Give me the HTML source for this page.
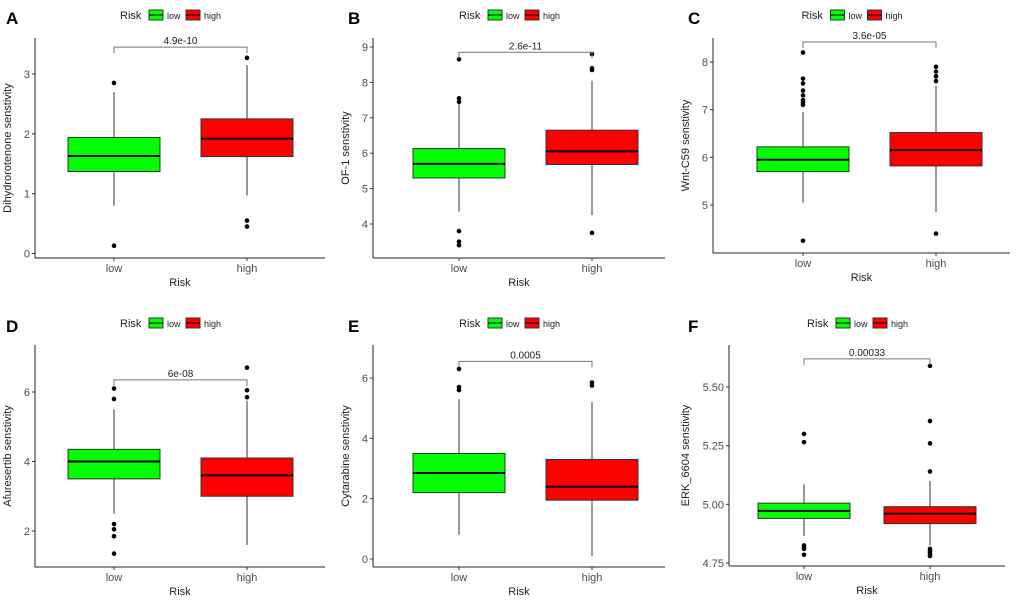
<!DOCTYPE html>
<html><head><meta charset="utf-8"><style>
body{margin:0;background:#fff;width:1020px;height:595px;overflow:hidden;font-family:"Liberation Sans",Arial,sans-serif}
</style></head><body>
<svg id="c" width="1020" height="595" xmlns="http://www.w3.org/2000/svg"></svg>
<script>
// ---- data ----
const panelLetters=["A","B","C","D","E","F"];
const yTitles=["Dihydrorotenone senstivity","OF-1 senstivity","Wnt-C59 senstivity","Afuresertib senstivity","Cytarabine senstivity","ERK_6604 senstivity"];
const pLabels=["4.9e-10","2.6e-11","3.6e-05","6e-08","0.0005","0.00033"];
const yTicks=[[0,1,2,3],[4,5,6,7,8,9],[5,6,7,8],[2,4,6],[0,2,4,6],[4.75,5.00,5.25,5.50]];
const yTickLabels=[["0","1","2","3"],["4","5","6","7","8","9"],["5","6","7","8"],["2","4","6"],["0","2","4","6"],["4.75","5.00","5.25","5.50"]];
// [q1, median, q3, whiskerLow, whiskerHigh]
const lowStats=[[1.37,1.63,1.94,0.8,2.7],[5.3,5.7,6.13,4.35,7.4],[5.7,5.95,6.22,5.05,6.95],[3.5,4.0,4.35,2.5,5.5],[2.2,2.85,3.5,0.8,5.3],[4.94,4.972,5.005,4.865,5.085]];
const highStats=[[1.62,1.92,2.25,0.97,3.15],[5.68,6.05,6.65,4.25,8.05],[5.82,6.15,6.52,4.85,7.5],[3.0,3.6,4.1,1.6,5.75],[1.95,2.4,3.3,0.1,5.2],[4.918,4.96,4.99,4.825,5.10]];
const lowOut=[[2.85,0.13],[7.55,7.45,8.65,3.8,3.5,3.4],[7.1,7.15,7.2,7.3,7.4,7.55,7.65,8.2,4.25],[5.8,6.1,2.2,2.05,1.85,1.35],[5.6,5.7,6.3],[5.3,5.265,4.825,4.815,4.81,4.785]];
const highOut=[[3.27,0.55,0.45],[8.35,8.4,8.8,3.75],[7.6,7.7,7.8,7.9,4.4],[5.85,6.05,6.7],[5.75,5.85],[5.14,5.26,5.355,5.59,4.81,4.8,4.795,4.785,4.78]];
const bracketVals=[3.45,8.85,8.42,6.35,6.55,5.62];
// ---- layout (pixel geometry only) ----
const L=[
 {ax:35,bot:258,top:38,right:325,t0:[0,253.5],t1:[3,74],xl:114,xh:247,letterX:6,ty:15},
 {ax:373,bot:258,top:38,right:665,t0:[4,224],t1:[9,47],xl:459,xh:592,letterX:348,ty:15},
 {ax:713,bot:253,top:38,right:1010,t0:[5,205],t1:[8,62],xl:803,xh:936,letterX:688,ty:15},
 {ax:35,bot:567,top:345,right:325,t0:[2,531],t1:[6,392],xl:114,xh:247,letterX:6,ty:323},
 {ax:373,bot:567,top:345,right:665,t0:[0,559],t1:[6,378],xl:459,xh:592,letterX:348,ty:323},
 {ax:729,bot:566,top:345,right:1005,t0:[4.75,563],t1:[5.5,387],xl:804,xh:930,letterX:688,ty:323}
];
const NS="http://www.w3.org/2000/svg",svg=document.getElementById('c');
function mk(t,a,p){const e=document.createElementNS(NS,t);for(const k in a)e.setAttribute(k,a[k]);(p||svg).appendChild(e);return e;}
const BW=46;
L.forEach((g,i)=>{
 const G=mk('g',{});
 
 
 const y=v=>g.t0[1]+(v-g.t0[0])*(g.t1[1]-g.t0[1])/(g.t1[0]-g.t0[0]);
 const lt=mk('text',{x:g.letterX,y:g.ty+9,'font-size':17,'font-weight':'bold'},G);lt.textContent=panelLetters[i];
 
 // legend
 const cx=(g.ax+g.right)/2, lg=mk('g',{},G);
 
 const lx=cx-60; let t=mk('text',{x:lx,y:g.ty+4,'font-size':11,fill:'#222'},lg);t.textContent='Risk';
 [['#00ff00','low',lx+29],['#ff0000','high',lx+66]].forEach(([c,n,x0])=>{
  const e=mk('g',{},lg);
  mk('rect',{x:x0,y:g.ty-5,width:14,height:10,fill:c,stroke:'#333','stroke-width':1},e);
  mk('line',{x1:x0,x2:x0+14,y1:g.ty,y2:g.ty,stroke:'#000'},e);
  const tt=mk('text',{x:x0+18,y:g.ty+4,'font-size':9,fill:'#222'},e);tt.textContent=n;});
 // axes
 const axl=mk('line',{x1:g.ax,x2:g.ax,y1:g.top,y2:g.bot,stroke:'#222','stroke-width':1},G);
 
 const axb=mk('line',{x1:g.ax,x2:g.right,y1:g.bot,y2:g.bot,stroke:'#222','stroke-width':1},G);
 
 yTicks[i].forEach((v,k)=>{const py=y(v);mk('line',{x1:g.ax-3,x2:g.ax,y1:py,y2:py,stroke:'#333'},G);
  const tl=mk('text',{x:g.ax-5,y:py+4,'font-size':11,'text-anchor':'end',fill:'#4d4d4d'},G);tl.textContent=yTickLabels[i][k];
  });
 [['low',g.xl],['high',g.xh]].forEach(([n,x])=>{mk('line',{x1:x,x2:x,y1:g.bot,y2:g.bot+3,stroke:'#333'},G);
  const tl=mk('text',{x:x,y:g.bot+14,'font-size':11,'text-anchor':'middle',fill:'#4d4d4d'},G);tl.textContent=n;
  });
 const xt=mk('text',{x:(g.ax+g.right)/2,y:g.bot+28,'font-size':11,'text-anchor':'middle',fill:'#222'},G);xt.textContent='Risk';
 
 const ym=(g.top+g.bot)/2,yx=g.ax-(i==5?40:i==0||i==3?24:24);
 const yt=mk('text',{x:yx,y:ym,'font-size':11,'text-anchor':'middle',fill:'#222',transform:`rotate(-90 ${yx} ${ym})`},G);yt.textContent=yTitles[i];
 
 // boxes
 [[lowStats[i],lowOut[i],g.xl,'#00ff00','low'],[highStats[i],highOut[i],g.xh,'#ff0000','high']].forEach(([s,o,x,c,n])=>{
  const b=mk('g',{},G);
  mk('line',{x1:x,x2:x,y1:y(s[2]),y2:y(s[4]),stroke:'#333','stroke-width':1},b);
  mk('line',{x1:x,x2:x,y1:y(s[0]),y2:y(s[3]),stroke:'#333','stroke-width':1},b);
  mk('rect',{x:x-BW,y:y(s[2]),width:2*BW,height:y(s[0])-y(s[2]),fill:c,stroke:'#333','stroke-width':1},b);
  mk('line',{x1:x-BW,x2:x+BW,y1:y(s[1]),y2:y(s[1]),stroke:'#000','stroke-width':2},b);
  o.forEach(v=>{const d=mk('circle',{cx:x,cy:y(v),r:2.3,fill:'#000'},b);
   });
 });
 // bracket
 const by=y(bracketVals[i]);
 const br=mk('path',{d:`M${g.xl} ${by+6}V${by}H${g.xh}V${by+6}`,fill:'none',stroke:'#777','stroke-width':1},G);
 
 const pt=mk('text',{x:(g.xl+g.xh)/2,y:by-3,'font-size':10,'text-anchor':'middle',fill:'#222'},G);pt.textContent=pLabels[i];
 
});
</script>
</body></html>
